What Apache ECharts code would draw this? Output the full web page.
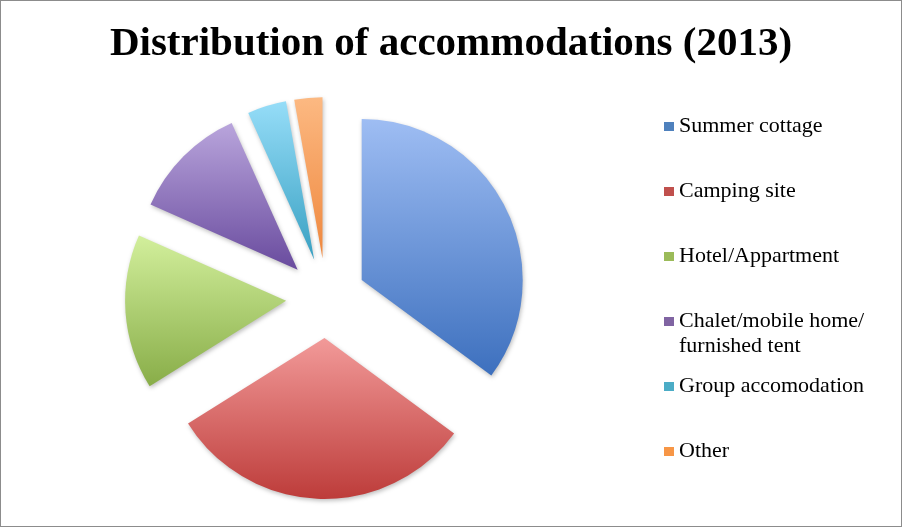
<!DOCTYPE html>
<html>
<head>
<meta charset="utf-8">
<script src="https://cdn.jsdelivr.net/npm/echarts@6/dist/echarts.min.js"></script>
<style>
html,body{margin:0;padding:0;background:#fff;}
#chart{width:900px;height:525px;border:1px solid #8c8c8c;background:#fff;}
</style>
</head>
<body>
<div id="chart"></div>
<script>
const titleText = 'Distribution of accommodations (2013)';
const categories = ['Summer cottage', 'Camping site', 'Hotel/Appartment', 'Chalet/mobile home/ furnished tent', 'Group accomodation', 'Other'];
const values = [35.0, 30.9, 15.5, 11.6, 3.9, 2.8];
const topColors = ['#9ebdf3', '#f29a99', '#d2ef9c', '#b9a5dc', '#96ddf8', '#fcb982'];
const bottomColors = ['#3d70be', '#bd3c3a', '#88ad48', '#694b9e', '#38a0c2', '#ef873d'];
const legendColors = ['#4f81bd', '#c0504d', '#9bbb59', '#8064a2', '#4bacc6', '#f79646'];

const chart = echarts.init(document.getElementById('chart'), null, {renderer: 'canvas'});

const pieData = categories.map((name, i) => ({
  name: name,
  value: values[i],
  selected: true,
  itemStyle: {
    color: new echarts.graphic.LinearGradient(0, 0, 0, 1, [
      {offset: 0, color: topColors[i]},
      {offset: 1, color: bottomColors[i]}
    ])
  }
}));

const legendText = {
  fontFamily: 'Liberation Serif',
  fontSize: 22,
  color: '#000',
  lineHeight: 25
};

function legendItems(idx) {
  return idx.map(i => ({name: categories[i], itemStyle: {color: legendColors[i]}}));
}

const commonLegend = {
  orient: 'vertical',
  left: 663,
  padding: 0,
  itemGap: 40,
  itemWidth: 10,
  itemHeight: 9,
  icon: 'rect',
  selectedMode: false,
  textStyle: legendText
};

chart.setOption({
  animation: false,
  title: {
    text: titleText,
    left: 'center',
    top: 19,
    padding: 0,
    textStyle: {
      fontFamily: 'Liberation Serif',
      fontWeight: 'bold',
      fontSize: 41,
      lineHeight: 48,
      color: '#000'
    }
  },
  legend: [
    Object.assign({}, commonLegend, {top: 113, data: legendItems([0, 1, 2])}),
    Object.assign({}, commonLegend, {
      top: 283,
      data: legendItems([3]),
      formatter: function (name) {
        const parts = name.split('/ ');
        return '{e| }\n{t|' + parts[0] + '/}\n{t|' + parts[1] + '}';
      },
      textStyle: Object.assign({}, legendText, {
        rich: {
          e: {lineHeight: 25, fontSize: 22, fontFamily: 'Liberation Serif'},
          t: {lineHeight: 25, fontSize: 22, fontFamily: 'Liberation Serif', color: '#000'}
        }
      })
    }),
    Object.assign({}, commonLegend, {top: 373, data: legendItems([4, 5])})
  ],
  series: [{
    type: 'pie',
    center: [325, 297],
    radius: [0, 161],
    startAngle: 90,
    clockwise: true,
    selectedMode: 'multiple',
    selectedOffset: 40,
    label: {show: false},
    labelLine: {show: false},
    emphasis: {disabled: true},
    itemStyle: {
      borderWidth: 0,
      shadowBlur: 4,
      shadowOffsetX: 1,
      shadowOffsetY: 2,
      shadowColor: 'rgba(0,0,0,0.25)'
    },
    data: pieData
  }]
});
</script>
</body>
</html>
